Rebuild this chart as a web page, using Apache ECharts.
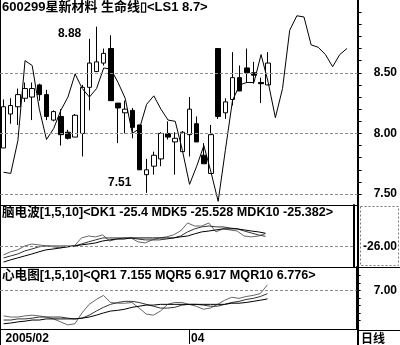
<!DOCTYPE html>
<html><head><meta charset="utf-8">
<script src="https://cdn.jsdelivr.net/npm/echarts@6/dist/echarts.min.js"></script>
<style>html,body{margin:0;padding:0;background:#fff}#c{width:400px;height:345px}</style>
</head><body><div id="c"></div>
<script>
const titleMain = '600299星新材料 生命线▯<LS1 8.7>';
const titleDK = '脑电波[1,5,10]<DK1 -25.4 MDK5 -25.528 MDK10 -25.382>';
const titleQR = '心电图[1,5,10]<QR1 7.155 MQR5 6.917 MQR10 6.776>';
const periodLabel = '日线';
const slotCount = 50;
const dateTicks = {0: '2005/02', 26: '04'};
const highLabel = {index: 13, value: 8.88};
const lowLabel = {index: 20, value: 7.51};

// [open, close, low, high]
const ohlc = [
  [7.88, 8.22, 7.88, 8.28], [8.16, 8.23, 8.08, 8.29], [8.22, 8.32, 8.07, 8.37],
  [8.29, 8.37, 8.26, 8.42], [8.30, 8.37, 8.11, 8.42], [8.40, 8.32, 8.27, 8.41],
  [8.32, 8.14, 8.11, 8.36], [8.11, 8.18, 8.10, 8.19], [8.14, 7.99, 7.90, 8.20],
  [8.01, 7.96, 7.95, 8.03], [7.97, 8.15, 7.97, 8.16], [8.00, 8.38, 7.81, 8.40],
  [8.38, 8.58, 8.19, 8.78], [8.51, 8.59, 8.51, 8.88], [8.58, 8.66, 8.56, 8.70],
  [8.70, 8.27, 8.27, 8.81], [8.25, 8.21, 7.92, 8.25], [8.17, 8.20, 8.00, 8.27],
  [8.19, 8.05, 7.96, 8.21], [8.07, 7.70, 7.70, 8.07], [7.66, 7.70, 7.51, 7.79],
  [7.73, 7.82, 7.66, 7.85], [7.79, 8.00, 7.73, 8.01], [8.00, 7.97, 7.95, 8.10],
  [7.93, 7.96, 7.66, 8.01], [7.85, 8.01, 7.85, 8.02], [7.99, 8.20, 7.81, 8.30],
  [8.08, 7.93, 7.93, 8.14], [7.82, 7.75, 7.75, 7.92], [7.67, 7.99, 7.67, 8.07],
  [8.70, 8.14, 8.12, 8.70], [8.17, 8.26, 8.12, 8.29], [8.28, 8.46, 8.23, 8.67],
  [8.46, 8.35, 8.35, 8.56], [8.54, 8.50, 8.42, 8.70], [8.50, 8.48, 8.41, 8.59],
  [8.42, 8.41, 8.25, 8.46], [8.40, 8.58, 8.40, 8.67]
];
const lifeLine = [7.68,7.67,7.94,8.60,8.56,8.20,7.95,8.04,8.19,8.30,8.49,8.37,8.30,8.37,8.54,8.53,8.42,8.29,8.00,8.04,8.24,8.31,8.20,8.11,8.10,7.86,7.58,7.73,7.90,7.68,7.44,7.86,8.27,8.40,8.42,8.42,8.65,8.42,8.13,8.37,8.85,8.97,8.96,8.73,8.71,8.65,8.55,8.65,8.70];

const dk1 = [-26.38,-26.24,-26.15,-25.97,-25.88,-25.92,-25.97,-26.01,-26.06,-26.01,-25.97,-25.60,-25.51,-25.55,-25.46,-25.74,-25.65,-25.60,-25.60,-25.78,-25.83,-25.69,-25.60,-25.55,-25.46,-25.28,-24.91,-25.05,-25.05,-24.91,-25.32,-25.18,-25.23,-25.28,-25.51,-25.55,-25.51,-25.40];
const mdk5 = [-26.52,-26.43,-26.34,-26.20,-26.11,-26.01,-25.97,-25.97,-25.97,-25.97,-25.97,-25.88,-25.78,-25.69,-25.60,-25.60,-25.60,-25.60,-25.60,-25.65,-25.69,-25.69,-25.69,-25.65,-25.60,-25.51,-25.32,-25.18,-25.09,-25.05,-25.09,-25.09,-25.14,-25.18,-25.28,-25.37,-25.46,-25.528];
const mdk10 = [-26.71,-26.61,-26.52,-26.43,-26.34,-26.24,-26.15,-26.11,-26.06,-26.01,-25.97,-25.92,-25.88,-25.83,-25.74,-25.69,-25.65,-25.65,-25.60,-25.60,-25.60,-25.60,-25.60,-25.60,-25.60,-25.55,-25.51,-25.41,-25.32,-25.28,-25.23,-25.18,-25.18,-25.18,-25.23,-25.28,-25.32,-25.382];

const qr1 = [6.32,6.29,6.29,6.32,6.34,6.32,6.29,6.24,6.16,6.08,6.11,6.40,6.63,6.76,6.87,6.68,6.66,6.66,6.68,6.53,6.37,6.34,6.45,6.63,6.68,6.68,6.63,6.58,6.50,6.53,6.63,6.74,6.82,6.79,6.84,6.87,6.92,7.155];
const mqr5 = [6.21,6.21,6.24,6.24,6.26,6.29,6.29,6.29,6.29,6.26,6.24,6.26,6.34,6.45,6.55,6.63,6.68,6.71,6.71,6.68,6.63,6.58,6.53,6.53,6.55,6.61,6.63,6.63,6.61,6.58,6.58,6.63,6.68,6.71,6.76,6.79,6.84,6.917];
const mqr10 = [6.11,6.13,6.16,6.18,6.21,6.21,6.24,6.24,6.24,6.24,6.24,6.26,6.29,6.34,6.40,6.45,6.47,6.50,6.55,6.58,6.61,6.61,6.63,6.63,6.63,6.63,6.63,6.63,6.63,6.63,6.63,6.63,6.66,6.66,6.68,6.71,6.74,6.776];

const mainLabels = [7.5, 8.0, 8.5];
const mainMinorTicks = [7.5,7.6,7.7,7.8,7.9,8.0,8.1,8.2,8.3,8.4,8.5,8.6,8.7,8.8,8.9,9.0];
const dkLabels = [-26];
const qrLabels = [7.0];
const qrMinorTicks = [6.2, 6.4, 6.6, 6.8, 7.0, 7.2, 7.4];

const categories = Array.from({length: slotCount}, (_, i) => String(i));
const FONT = "'Liberation Sans','Noto Sans CJK SC',sans-serif";
const gridLineStyle = {color: '#8a8a8a', type: [3, 2], width: 1};
function gridMark(vals) {
  return {silent: true, symbol: ['none', 'none'], label: {show: false}, lineStyle: gridLineStyle,
    animation: false, data: vals.map(v => ({yAxis: v}))};
}
const xAxisBase = {type: 'category', data: categories, boundaryGap: true,
  axisLine: {show: false}, axisTick: {show: false}, axisLabel: {show: false}, splitLine: {show: false}};
const yAxisBase = {type: 'value', position: 'right', scale: true,
  axisLine: {show: true, lineStyle: {color: '#000', width: 2}},
  splitLine: {show: false}};

const chart = echarts.init(document.getElementById('c'), null, {renderer: 'canvas'});
chart.setOption({
  animation: false,
  backgroundColor: '#fff',
  title: [
    {text: titleMain, left: 2, top: 1, padding: 0, textStyle: {fontFamily: FONT, fontSize: 13, fontWeight: 'bold', color: '#000'}},
    {text: titleDK, left: 2, top: 206, padding: 0, textStyle: {fontFamily: FONT, fontSize: 12.6, fontWeight: 'bold', color: '#000'}},
    {text: titleQR, left: 2, top: 269, padding: 0, textStyle: {fontFamily: FONT, fontSize: 12.6, fontWeight: 'bold', color: '#000'}}
  ],
  grid: [
    {left: 0, width: 358, top: 0, height: 205},
    {left: 0, width: 358, top: 205, height: 62},
    {left: 0, width: 358, top: 267, height: 63}
  ],
  xAxis: [
    Object.assign({}, xAxisBase, {gridIndex: 0}),
    Object.assign({}, xAxisBase, {gridIndex: 1}),
    Object.assign({}, xAxisBase, {gridIndex: 2,
      axisLine: {show: true, lineStyle: {color: '#000', width: 1}},
      axisTick: {show: true, length: 15, alignWithLabel: true, interval: (i) => dateTicks[i] !== undefined && i > 0, lineStyle: {color: '#000'}},
      axisLabel: {show: true, interval: 0, align: 'left', margin: 4, padding: [0, 0, 0, 2],
        formatter: (v, i) => dateTicks[i] || '', fontFamily: FONT, fontSize: 12, fontWeight: 'bold', color: '#000'}})
  ],
  yAxis: [
    Object.assign({}, yAxisBase, {gridIndex: 0, min: 7.41, max: 9.10,
      axisTick: {show: true, length: 4, customValues: mainMinorTicks, lineStyle: {color: '#000'}},
      axisLabel: {show: true, margin: 16, customValues: mainLabels, formatter: v => v.toFixed(2),
        fontFamily: FONT, fontSize: 12, fontWeight: 'bold', color: '#000'}}),
    Object.assign({}, yAxisBase, {gridIndex: 1, min: -26.94, max: -24.08,
      axisTick: {show: false},
      axisLabel: {show: true, margin: 9, customValues: dkLabels, formatter: v => v.toFixed(2),
        fontFamily: FONT, fontSize: 12, fontWeight: 'bold', color: '#000'}}),
    Object.assign({}, yAxisBase, {gridIndex: 2, min: 5.97, max: 7.63,
      axisTick: {show: true, length: 4, customValues: qrMinorTicks, lineStyle: {color: '#000'}},
      axisLabel: {show: true, margin: 17, customValues: qrLabels, formatter: v => v.toFixed(2),
        fontFamily: FONT, fontSize: 12, fontWeight: 'bold', color: '#000'}})
  ],
  series: [
    {type: 'candlestick', xAxisIndex: 0, yAxisIndex: 0, data: ohlc, barWidth: 5,
      itemStyle: {color: '#fff', color0: '#000', borderColor: '#000', borderColor0: '#000', borderWidth: 1},
      markLine: gridMark(mainLabels),
      markPoint: {symbol: 'circle', symbolSize: 1, itemStyle: {color: 'rgba(0,0,0,0)'}, silent: true, animation: false,
        label: {show: true, color: '#000', fontFamily: FONT, fontSize: 12, fontWeight: 'bold', formatter: p => p.data.value.toFixed(2)},
        data: [
          {coord: [highLabel.index, highLabel.value], value: highLabel.value, label: {offset: [-27, 7]}},
          {coord: [lowLabel.index, lowLabel.value], value: lowLabel.value, label: {offset: [-27, -10]}}
        ]}},
    {type: 'line', xAxisIndex: 0, yAxisIndex: 0, data: lifeLine, symbol: 'none', lineStyle: {color: '#000', width: 1}, z: 3},
    {type: 'line', xAxisIndex: 1, yAxisIndex: 1, data: dk1, symbol: 'none', lineStyle: {color: '#666', width: 1}, markLine: gridMark(dkLabels)},
    {type: 'line', xAxisIndex: 1, yAxisIndex: 1, data: mdk5, symbol: 'none', lineStyle: {color: '#333', width: 1}},
    {type: 'line', xAxisIndex: 1, yAxisIndex: 1, data: mdk10, symbol: 'none', lineStyle: {color: '#000', width: 1}},
    {type: 'line', xAxisIndex: 2, yAxisIndex: 2, data: qr1, symbol: 'none', lineStyle: {color: '#666', width: 1}, markLine: gridMark(qrLabels)},
    {type: 'line', xAxisIndex: 2, yAxisIndex: 2, data: mqr5, symbol: 'none', lineStyle: {color: '#333', width: 1}},
    {type: 'line', xAxisIndex: 2, yAxisIndex: 2, data: mqr10, symbol: 'none', lineStyle: {color: '#000', width: 1}}
  ],
  graphic: [
    {type: 'line', shape: {x1: 0.5, y1: 0, x2: 0.5, y2: 345}, style: {stroke: '#000', lineWidth: 1}, silent: true},
    {type: 'line', shape: {x1: 0, y1: 205.5, x2: 358, y2: 205.5}, style: {stroke: '#000', lineWidth: 1}, silent: true},
    {type: 'line', shape: {x1: 0, y1: 267.5, x2: 400, y2: 267.5}, style: {stroke: '#000', lineWidth: 1}, silent: true},
    {type: 'line', shape: {x1: 358, y1: 330.5, x2: 400, y2: 330.5}, style: {stroke: '#000', lineWidth: 1}, silent: true},
    {type: 'line', shape: {x1: 358, y1: 0, x2: 358, y2: 345}, style: {stroke: '#000', lineWidth: 2}, silent: true},
    {type: 'rect', shape: {x: 360.5, y: 206.5, width: 38, height: 59}, style: {fill: 'none', stroke: '#777', lineWidth: 1, lineDash: [2, 2]}, silent: true},
    {type: 'text', left: 361, top: 332, style: {text: periodLabel, font: "bold 12px 'Noto Sans CJK SC',sans-serif", fill: '#000'}, silent: true}
  ]
});
</script>
</body></html>
